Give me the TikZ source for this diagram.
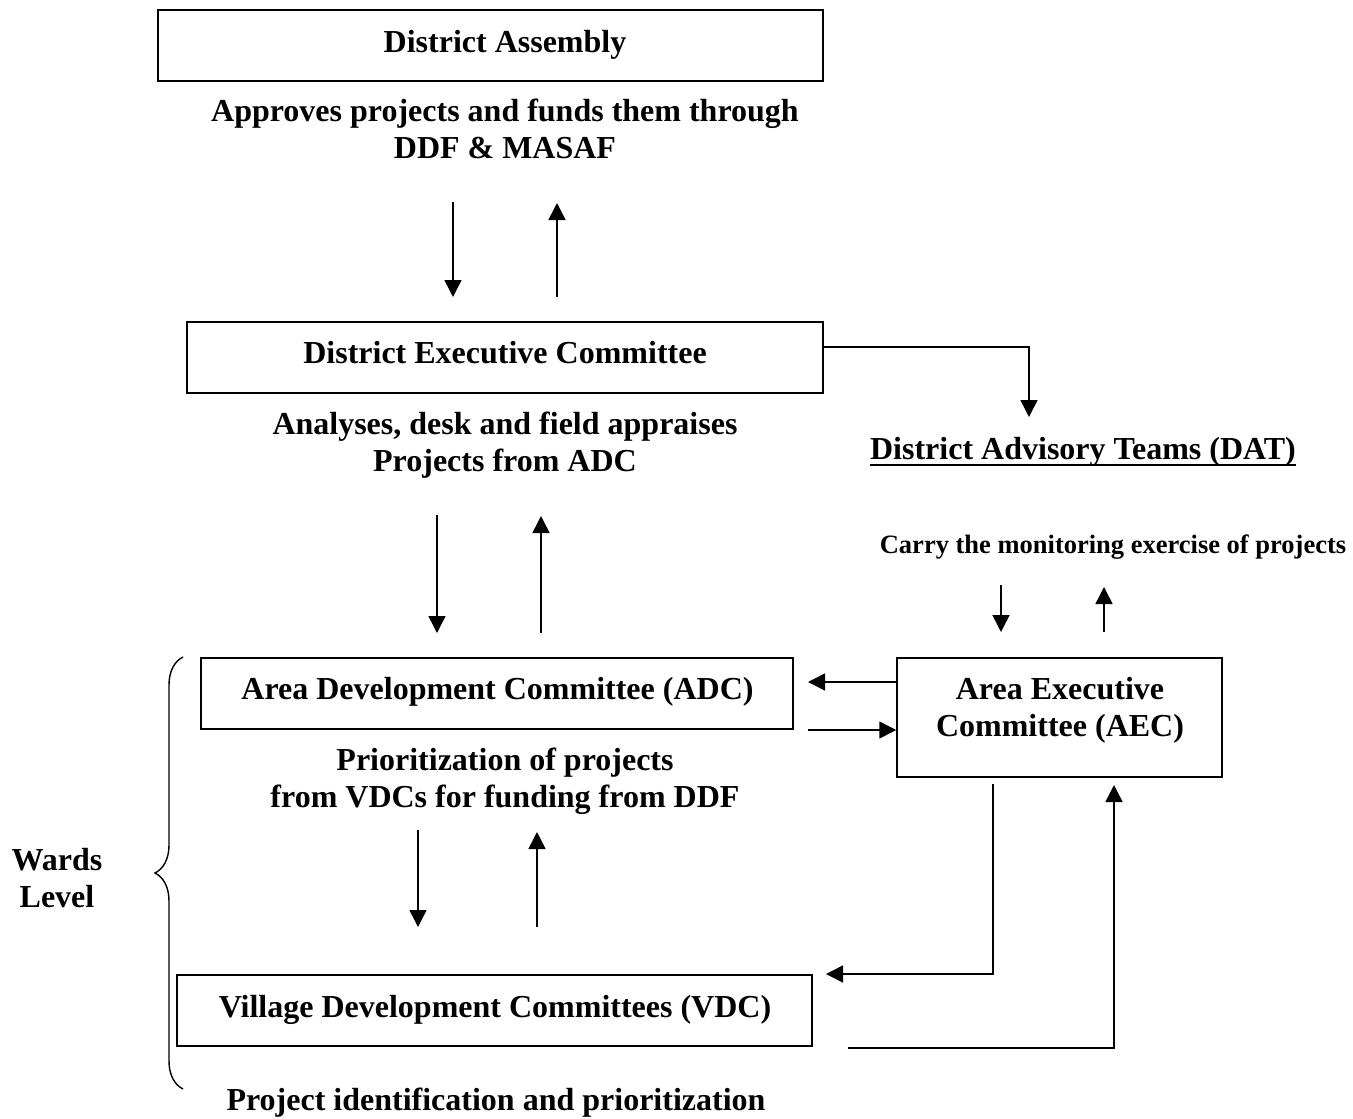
\documentclass[tikz,border=0pt]{standalone}
\usepackage{fontspec}
\setmainfont{Liberation Serif}
\usetikzlibrary{arrows.meta,decorations.pathreplacing}
\begin{document}
\begin{tikzpicture}[x=1pt,y=-1pt,
  box/.style={draw,line width=1.5pt,inner sep=0pt},
  txt/.style={inner sep=0pt,font=\bfseries\fontsize{32}{36.5}\selectfont,align=center,anchor=base},
  small/.style={inner sep=0pt,font=\bfseries\fontsize{26.5}{31}\selectfont,align=center,anchor=base},
  arr/.style={line width=1.5pt,-{Triangle[length=17pt,width=17pt]}},
  ln/.style={line width=1.5pt}]
\useasboundingbox (0,0) rectangle (1353,1119);
% boxes
\node[box,minimum width=665pt,minimum height=71pt] (da) at (490.5,45.5) {};
\node[txt] (datxt) at (505,52) {District Assembly};
\node[box,minimum width=636pt,minimum height=71pt] (dec) at (505,357.5) {};
\node[txt] (dectxt) at (505,363) {District Executive Committee};
\node[box,minimum width=592pt,minimum height=71pt] (adc) at (497,693.5) {};
\node[txt] (adctxt) at (497.5,699) {Area Development Committee (ADC)};
\node[box,minimum width=325pt,minimum height=119pt] (aec) at (1059.5,717.5) {};
\node[txt] (aectxt) at (1060,736) {Area Executive\\Committee (AEC)};
\node[box,minimum width=635pt,minimum height=71pt] (vdc) at (494.5,1010.5) {};
\node[txt] (vdctxt) at (495,1017) {Village Development Committees (VDC)};
% labels
\node[txt] (approve) at (505,158) {Approves projects and funds them through\\DDF \& MASAF};
\node[txt] (analyses) at (505,471) {Analyses, desk and field appraises\\Projects from ADC};
\node[txt] (dat) at (1083,459) {District Advisory Teams (DAT)};
\draw[line width=2.5pt] ([yshift=-6pt]dat.base west) -- ([yshift=-6pt]dat.base east);
\node[small] (carry) at (1113,553) {Carry the monitoring exercise of projects};
\node[txt] (prior) at (505,807) {Prioritization of projects\\from VDCs for funding from DDF};
\node[txt] (wards) at (57,907) {Wards\\Level};
\node[txt] (proj) at (496,1110) {Project identification and prioritization};
% brace
\draw[line width=1.4pt,decorate,decoration={brace,amplitude=28pt}] (183,1089) -- (183,657);
% vertical arrow pairs
\coordinate (a1a) at (453,202); \coordinate (a1b) at (453,297);
\coordinate (a2a) at (557,297); \coordinate (a2b) at (557,203);
\draw[arr] (a1a) -- (a1b);
\draw[arr] (a2a) -- (a2b);
\coordinate (b1a) at (437,515); \coordinate (b1b) at (437,633);
\coordinate (b2a) at (541,633); \coordinate (b2b) at (541,516);
\draw[arr] (b1a) -- (b1b);
\draw[arr] (b2a) -- (b2b);
\coordinate (c1a) at (418,830); \coordinate (c1b) at (418,927);
\coordinate (c2a) at (537,927); \coordinate (c2b) at (537,832);
\draw[arr] (c1a) -- (c1b);
\draw[arr] (c2a) -- (c2b);
\coordinate (d1a) at (1001,585); \coordinate (d1b) at (1001,632);
\coordinate (d2a) at (1104,632); \coordinate (d2b) at (1104,587);
\draw[arr] (d1a) -- (d1b);
\draw[arr] (d2a) -- (d2b);
% DEC to DAT
\coordinate (datin) at (1029,417);
\draw[arr] ([yshift=10.5pt]dec.east) -| (datin);
% AEC <-> ADC
\coordinate (adcin) at (808,682);
\coordinate (adcout) at (808,730);
\draw[arr] ([yshift=35.5pt]aec.west) -- (adcin);
\draw[arr] (adcout) -- ([yshift=-12.5pt]aec.west);
% AEC -> VDC
\coordinate (e1) at (993,784); \coordinate (e2) at (993,974); \coordinate (e3) at (826,974);
\draw[arr] (e1) -- (e2) -- (e3);
% VDC -> AEC
\coordinate (f1) at (848,1048); \coordinate (f2) at (1114,1048); \coordinate (f3) at (1114,785);
\draw[arr] (f1) -- (f2) -- (f3);
\end{tikzpicture}
\end{document}
